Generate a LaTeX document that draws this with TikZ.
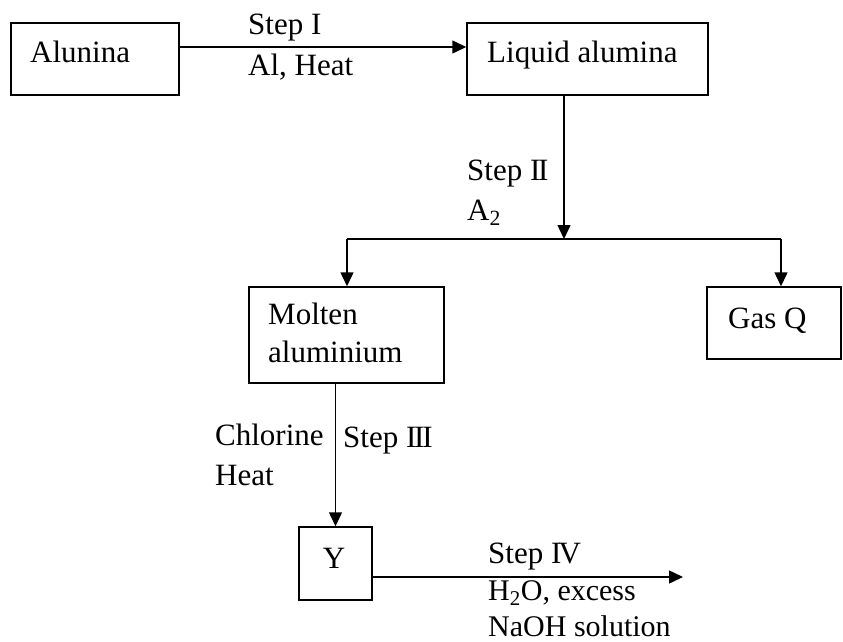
\documentclass[tikz,border=0pt]{standalone}
\usepackage{fontspec}
\setmainfont{Liberation Serif}
\usetikzlibrary{arrows.meta}
\newcommand{\rnII}{I\kern-0.07em I}
\newcommand{\rnIII}{I\kern-0.07em I\kern-0.07em I}
\newcommand{\rnIV}{I\kern-0.09em V}
\begin{document}
\begin{tikzpicture}[x=1pt,y=-1pt,
  box/.style={draw, line width=1.5pt, inner sep=0pt},
  lbl/.style={anchor=base west, inner sep=0pt, font=\fontsize{31}{38}\selectfont},
  lbls/.style={lbl, font=\fontsize{30}{36}\selectfont},
  arr/.style={line width=1.5pt, -{Triangle[length=14pt,width=13pt]}},
  ln/.style={line width=1.5pt}]
\useasboundingbox (0,0) rectangle (843,642);
% boxes
\node[box, minimum width=168pt, minimum height=72pt] (alunina) at (95,59) {};
\node[box, minimum width=241pt, minimum height=72pt] (liquid) at (587.5,59) {};
\node[box, minimum width=195pt, minimum height=96pt] (molten) at (346.5,335) {};
\node[box, minimum width=134pt, minimum height=72pt] (gasq) at (774,323) {};
\node[box, minimum width=73pt, minimum height=73pt] (ybox) at (335.5,563.5) {};
% texts in boxes
\node[lbl] (talunina) at (30,63) {Alunina};
\node[lbl] (tliquid) at (487,63) {Liquid alumina};
\node[lbl] (tmolten1) at (268,324) {Molten};
\node[lbl] (tmolten2) at (268,362) {aluminium};
\node[lbl] (tgasq) at (728,328) {Gas Q};
\node[lbl, anchor=base] (ty) at (334,568) {Y};
% connector labels
\node[lbl] (s1a) at (248,35) {Step I};
\node[lbl] (s1b) at (248,76) {Al, Heat};
\node[lbl] (s2a) at (467,180) {Step \rnII};
\node[lbl] (s2b) at (467,220) {A\textsubscript{2}};
\node[lbl] (s3a) at (343,447) {Step \rnIII};
\node[lbl] (s3b) at (215,445) {Chlorine};
\node[lbl] (s3c) at (215,485) {Heat};
\node[lbl] (s4a) at (488,563) {Step \rnIV};
\node[lbls] (s4b) at (488,600) {H\textsubscript{2}O, excess};
\node[lbls] (s4c) at (488,636) {NaOH solution};
% coordinates
\coordinate (br) at (564,239);
\coordinate (bl) at (347,239);
\coordinate (brr) at (781,239);
\coordinate (yend) at (683,577);
% connectors
\draw[arr] ([yshift=12pt]alunina.east) -- ([yshift=12pt]liquid.west);
\draw[arr] ([xshift=-23.5pt]liquid.south) -- (br);
\draw[ln] (bl) -- (brr);
\draw[arr] (bl) -- (bl |- molten.north);
\draw[arr] (brr) -- (brr |- gasq.north);
\draw[arr] (ybox.north |- molten.south) -- (ybox.north);
\draw[arr] ([yshift=-13.5pt]ybox.east) -- (yend);
\end{tikzpicture}
\end{document}
